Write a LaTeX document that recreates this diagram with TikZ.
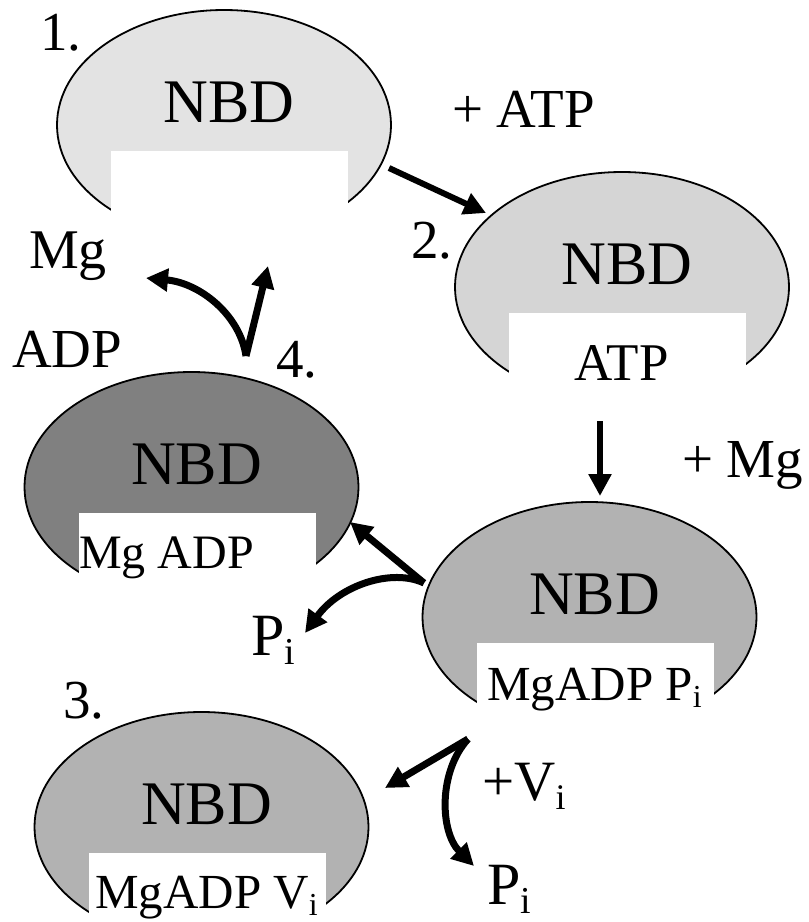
\documentclass[tikz,border=0pt]{standalone}
\usepackage{fontspec}
\setmainfont{Liberation Serif}
\usetikzlibrary{arrows.meta,shapes.geometric}
\definecolor{gA}{HTML}{E3E3E3}
\definecolor{gB}{HTML}{D5D5D5}
\definecolor{gC}{HTML}{B2B2B2}
\definecolor{gD}{HTML}{808080}
\newcommand\fs[1]{\fontsize{#1}{#1}\selectfont}
\newcommand\sbi[1]{\raisebox{-0.16em}{\fs{#1}i}}
\tikzset{
  nbd/.style={ellipse, draw=black, line width=1.8pt, minimum width=334pt, minimum height=230pt, inner sep=0pt},
  lbl/.style={inner sep=0pt, anchor=base west},
  arr/.style={line width=6pt, -{Triangle[length=22pt,width=22pt]}},
  carr/.style={line width=7pt, -{Triangle[length=22pt,width=22pt]}},
}
\newcommand\nbdbox[4]{%
  \node[nbd, fill=#4] (#1) at (#2,#3) {};
  \fill[white] ([xshift=-113pt,yshift=-26pt]#1.center) rectangle ([xshift=124pt,yshift=-121pt]#1.center);
  \node[inner sep=0pt, anchor=base] (#1t) at ([xshift=5pt,yshift=3pt]#1.center) {\fs{62}NBD};
}
\begin{document}
\begin{tikzpicture}[x=1pt,y=-1pt]
\useasboundingbox[fill=white] (0,0) rectangle (809,922);
% shapes
\nbdbox{s1}{224}{125}{gA}
\nbdbox{s2}{622}{287}{gB}
\nbdbox{s4}{191.5}{487}{gD}
\nbdbox{s3}{589.5}{617}{gC}
\nbdbox{s5}{201.5}{827}{gC}
% numbers
\node[lbl] (n1) at (40,50) {\fs{55}1.};
\node[lbl] (n2) at (411,258) {\fs{55}2.};
\node[lbl] (n4) at (276,377) {\fs{55}4.};
\node[lbl] (n3) at (63,718) {\fs{55}3.};
% inner labels
\node[lbl] (t2) at (574,380) {\fs{53}ATP};
\node[lbl] (t4) at (79,568) {\fs{48}Mg ADP};
\node[lbl] (t3) at (487,700) {\fs{49}MgADP P\sbi{32}};
\node[lbl] (t5) at (95,908) {\fs{49}MgADP V\sbi{32}};
% outer labels
\node[lbl] (atp) at (452,127) {\fs{55}+ ATP};
\node[lbl] (mgp) at (682,477) {\fs{55}+ Mg};
\node[lbl] (mg) at (29,268) {\fs{56}Mg};
\node[lbl] (adp) at (12,367) {\fs{55}ADP};
\node[lbl] (pi1) at (251,655) {\fs{60}P\sbi{38}};
\node[lbl] (vi) at (482,800) {\fs{57}+V\sbi{36}};
\node[lbl] (pi2) at (487,904) {\fs{60}P\sbi{38}};
% connector points
\coordinate (a1s) at (389,168);
\coordinate (a1e) at (486,213);
\coordinate (a2s) at (600,421);
\coordinate (a2e) at (600,496);
\coordinate (v3) at (424,583);
\coordinate (v3a) at (350,522);
\coordinate (v3b) at (305,633);
\coordinate (v4) at (246,356);
\coordinate (v4a) at (146,278);
\coordinate (v4b) at (268,266);
\coordinate (v5) at (468,739);
\coordinate (v5a) at (385,788);
\coordinate (v5b) at (474,866);
% arrows
\draw[arr] (a1s) -- (a1e);
\draw[arr] (a2s) -- (a2e);
\draw[carr] (v3) -- (v3a);
\draw[carr] (v3) .. controls (392,568) and (340,585) .. (v3b);
\draw[carr] (v4) -- (v4b);
\draw[carr] (v4) .. controls (240,315) and (200,283) .. (v4a);
\draw[carr] (v5) -- (v5a);
\draw[carr] (v5) .. controls (438,772) and (440,832) .. (v5b);
\end{tikzpicture}
\end{document}
